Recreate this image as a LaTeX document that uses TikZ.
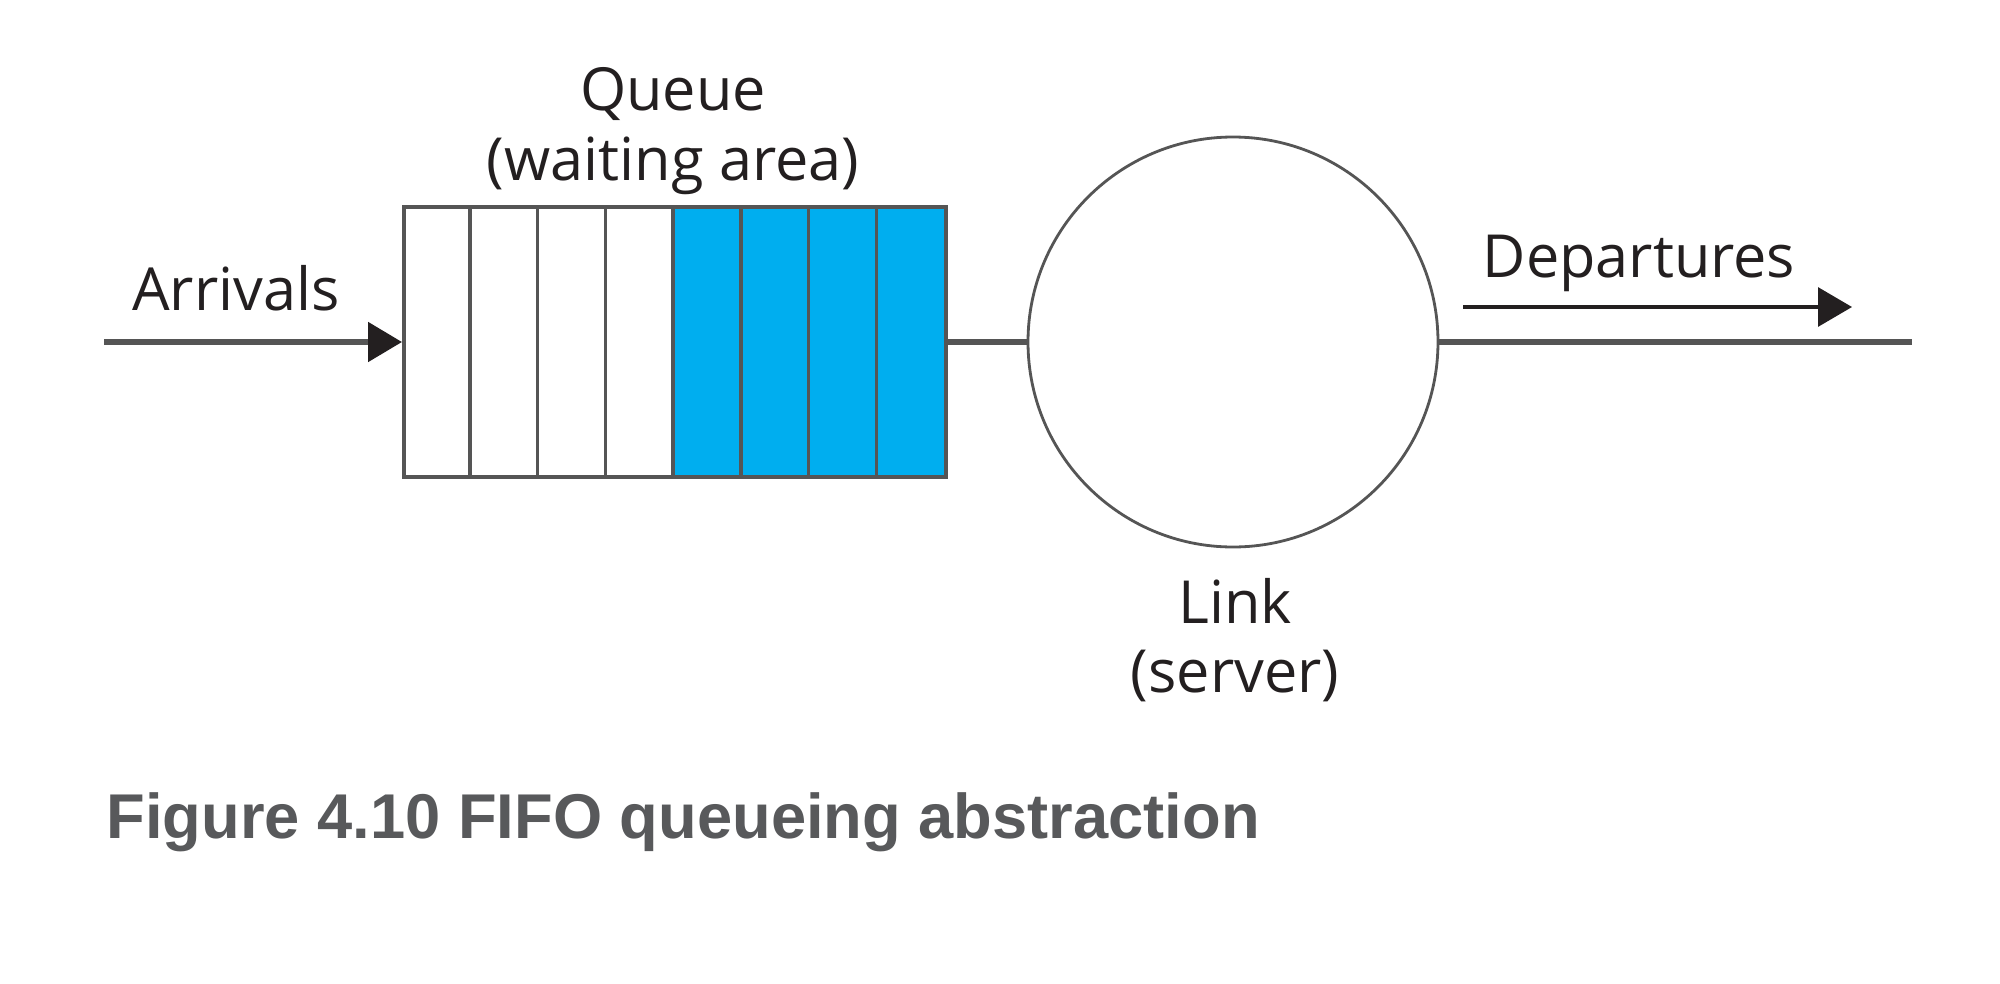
\documentclass[tikz,border=0pt]{standalone}
\usepackage{fontspec}
\usepackage{xcolor}
\setmainfont{Open Sans}
\newfontfamily\capfont{Liberation Sans}
\usetikzlibrary{arrows.meta}
\definecolor{pktblue}{HTML}{00AEEF}
\definecolor{linegray}{HTML}{555555}
\definecolor{capgray}{HTML}{58595B}
\definecolor{inkdark}{HTML}{231F20}

\begin{document}
\begin{tikzpicture}[
  lbl/.style={font=\fontsize{16.9}{20}\selectfont, text=inkdark, inner sep=0pt, anchor=base},
  wire/.style={draw=linegray, line width=1.5pt},
  head/.style={-{Triangle[length=3.4mm,width=3.9mm,color=inkdark]}}
]
\useasboundingbox (0,0) rectangle (20,9.83);

% queue cells (last four hold packets)
\foreach \i in {4,...,7} \fill[pktblue] ({4.02+\i*0.6775},5.06) rectangle ++(0.6775,2.70);
\foreach \i in {1,...,7} \draw[linegray, line width=1pt] ({4.02+\i*0.6775},5.06) -- ++(0,2.70);
\node[draw=linegray, line width=1pt, minimum width=5.42cm, minimum height=2.7cm, inner sep=0, anchor=west] (queue) at (4.02,6.41) {};

% server
\node[circle, draw=linegray, line width=0.8pt, minimum size=4.1cm, inner sep=0] (link) at (12.33,6.41) {};

\coordinate (arrin) at (1.04,6.41);
\coordinate (outend) at (19.12,6.41);
\coordinate (depstart) at (14.63,6.76);
\coordinate (depend) at (18.52,6.76);

\draw[wire, head] (arrin) -- (queue.west);
\draw[wire] (queue.east) -- (link.west);
\draw[wire] (link.east) -- (outend);
\draw[line width=0.9pt, inkdark, head] (depstart) -- (depend);

% labels
\node[lbl] (arrlbl) at (2.36,6.73) {Arrivals};
\node[lbl] (queuelbl) at (6.73,8.73) {Queue};
\node[lbl] (queuesub) at (6.73,8.03) {(waiting area)};
\node[lbl] (linklbl) at (12.35,3.60) {Link};
\node[lbl] (linksub) at (12.35,2.91) {(server)};
\node[lbl] (deplbl) at (16.39,7.06) {Departures};

\node[font=\capfont\bfseries\fontsize{18}{22}\selectfont, text=capgray, inner sep=0, anchor=base west] (caption) at (1.06,1.45) {Figure 4.10 FIFO queueing abstraction};
\end{tikzpicture}
\end{document}
